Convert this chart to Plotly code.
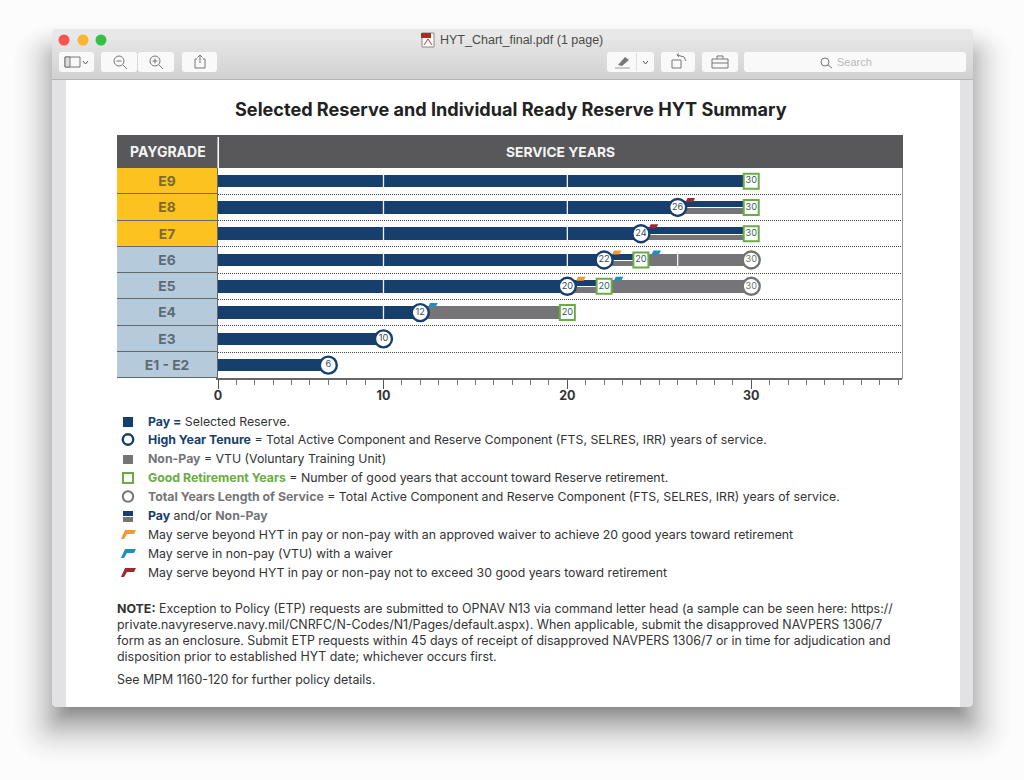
import plotly.graph_objects as go

W, H = 1024, 780

# ---- chart data -------------------------------------------------------------
# The source chart's axis is uneven: the label 10 sits on the 9th tick, 20 on the
# 19th and 30 on the 29th, so positions below are tick positions.
paygrades = ["E9", "E8", "E7", "E6", "E5", "E4", "E3", "E1 - E2"]
paygrade_colors = ["#fcc220", "#fcc220", "#fcc220", "#b5cbdc", "#b5cbdc", "#b5cbdc", "#b5cbdc", "#b5cbdc"]
paygrade_text = ["#7b6a30", "#7b6a30", "#7b6a30", "#5d6b76", "#5d6b76", "#5d6b76", "#5d6b76", "#5d6b76"]
pay_end = [29, 25, 23, 21, 19, 11, 9, 6]

split_grades = ["E8", "E7", "E6", "E5"]
split_start = [25, 23, 21, 19]
split_end = [29, 29, 23, 21]

nonpay_grades = ["E6", "E5", "E4"]
nonpay_start = [23, 21, 11]
nonpay_end = [29, 29, 19]

hyt_grades = ["E8", "E7", "E6", "E5", "E4", "E3", "E1 - E2"]
hyt_pos = [25, 23, 21, 19, 11, 9, 6]
hyt_labels = ["26", "24", "22", "20", "12", "10", "6"]

good_grades = ["E9", "E8", "E7", "E6", "E5", "E4"]
good_pos = [29, 29, 29, 23, 21, 19]
good_labels = ["30", "30", "30", "20", "20", "20"]

total_grades = ["E6", "E5"]
total_pos = [29, 29]
total_labels = ["30", "30"]

sep_grades = ["E9", "E8", "E7", "E6", "E5", "E4", "E9", "E8", "E7", "E6", "E5", "E6"]
sep_pos = [9, 9, 9, 9, 9, 9, 19, 19, 19, 19, 19, 25]

flag_grades = ["E8", "E7", "E6", "E6", "E5", "E5", "E4"]
flag_pos = [25.7, 23.7, 21.7, 23.85, 19.75, 21.8, 11.7]
flag_kinds = ["red", "red", "orange", "blue", "orange", "blue", "blue"]

major_ticks = [0, 9, 19, 29]
major_labels = ["0", "10", "20", "30"]
minor_ticks = [t for t in range(0, 38)]

NAVY, GRAY, GREEN = "#163f6e", "#757577", "#6bab45"
FLAG = {"red": "#9c2a34", "orange": "#ee9a35", "blue": "#1f8fc0"}

TITLE = "Selected Reserve and Individual Ready Reserve HYT Summary"
legend_rows = [
    f'<b><span style="color:{NAVY}">Pay =</span></b> Selected Reserve.',
    f'<b><span style="color:{NAVY}">High Year Tenure</span></b> = Total Active Component and Reserve Component (FTS, SELRES, IRR) years of service.',
    f'<b><span style="color:{GRAY}">Non-Pay</span></b> = VTU (Voluntary Training Unit)',
    f'<b><span style="color:{GREEN}">Good Retirement Years</span></b> = Number of good years that account toward Reserve retirement.',
    f'<b><span style="color:{GRAY}">Total Years Length of Service</span></b> = Total Active Component and Reserve Component (FTS, SELRES, IRR) years of service.',
    f'<b><span style="color:{NAVY}">Pay</span></b> and/or <b><span style="color:{GRAY}">Non-Pay</span></b>',
    'May serve beyond HYT in pay or non-pay with an approved waiver to achieve 20 good years toward retirement',
    'May serve in non-pay (VTU) with a waiver',
    'May serve beyond HYT in pay or non-pay not to exceed 30 good years toward retirement',
]
legend_y = [421.3, 439.3, 458.3, 477.3, 496.3, 515.3, 534.3, 553.3, 572.3]
note_rows = [
    '<b>NOTE:</b> Exception to Policy (ETP) requests are submitted to OPNAV N13 via command letter head (a sample can be seen here: https://',
    'private.navyreserve.navy.mil/CNRFC/N-Codes/N1/Pages/default.aspx). When applicable, submit the disapproved NAVPERS 1306/7',
    'form as an enclosure. Submit ETP requests within 45 days of receipt of disapproved NAVPERS 1306/7 or in time for adjudication and',
    'disposition prior to established HYT date; whichever occurs first.',
    'See MPM 1160-120 for further policy details.',
]
note_y = [608.3, 624.5, 640.5, 656.5, 679.3]

# ---- pixel helpers for the page furniture --------------------------------------
def fx(px): return px / W
def fy(py): return (H - py) / H

shapes, annos = [], []

def rect(x0, y0, x1, y1, fill, line=None, lw=1, opacity=1, layer="below"):
    shapes.append(dict(type="rect", xref="paper", yref="paper", x0=fx(x0), x1=fx(x1), y0=fy(y1), y1=fy(y0),
                       fillcolor=fill, opacity=opacity, layer=layer,
                       line=dict(color=line or fill, width=lw if line else 0)))

def pathp(points, fill=None, line=None, lw=1, close=True, layer="below", opacity=1):
    d = "M " + " L ".join(f"{fx(x):.5f},{fy(y):.5f}" for x, y in points) + (" Z" if close else "")
    shapes.append(dict(type="path", xref="paper", yref="paper", path=d, layer=layer, opacity=opacity,
                       fillcolor=fill or "rgba(0,0,0,0)", line=dict(color=line or "rgba(0,0,0,0)", width=lw)))

def rrect(x0, y0, x1, y1, r, fill, line=None, lw=1, opacity=1):
    a, b = fx(x0), fx(x1); c, d = fy(y0), fy(y1)
    rx, ry = r / W, r / H
    p = (f"M {a+rx:.5f},{c:.5f} L {b-rx:.5f},{c:.5f} Q {b:.5f},{c:.5f} {b:.5f},{c-ry:.5f} "
         f"L {b:.5f},{d+ry:.5f} Q {b:.5f},{d:.5f} {b-rx:.5f},{d:.5f} L {a+rx:.5f},{d:.5f} "
         f"Q {a:.5f},{d:.5f} {a:.5f},{d+ry:.5f} L {a:.5f},{c-ry:.5f} Q {a:.5f},{c:.5f} {a+rx:.5f},{c:.5f} Z")
    shapes.append(dict(type="path", xref="paper", yref="paper", path=p, layer="below", opacity=opacity,
                       fillcolor=fill, line=dict(color=line or "rgba(0,0,0,0)", width=lw if line else 0)))

def circle(cx, cy, r, fill, line=None, lw=1):
    shapes.append(dict(type="circle", xref="paper", yref="paper", x0=fx(cx - r), x1=fx(cx + r), y0=fy(cy + r), y1=fy(cy - r),
                       fillcolor=fill, layer="below", line=dict(color=line or "rgba(0,0,0,0)", width=lw if line else 0)))

def text(x, y, s, size, color="#333333", anchor="left", family="Inter"):
    annos.append(dict(xref="paper", yref="paper", x=fx(x), y=fy(y), text=s, showarrow=False, xanchor=anchor, yanchor="middle",
                      align=anchor, xshift=0, yshift=0, borderpad=0, font=dict(family=family, size=size, color=color)))

# ---- window shadow: soft, stronger towards the window, offset downward ----------
N = 40
for i in range(N):
    e = 46 - 1.6 * i
    u = (i + 1) / N
    rrect(52 - e, 29 + 22 - e * 0.7, 973 + e, 707 + 18 + e, max(6, 12 + e * 0.8), "#000000", opacity=0.001 + 0.028 * u ** 1.5)

# ---- window body and toolbar ----------------------------------------------------
rrect(52, 29, 973, 707, 5, "#e2e1e4")
steps = 12
for i in range(steps):
    g = 232 - int(i * 22 / (steps - 1))
    y0 = 32 + i * 4
    rect(52, y0, 973, y0 + 4, f"rgb({g},{g},{g})")
rrect(52, 29, 973, 40, 5, "rgb(232,232,232)")
rect(52, 79, 973, 80, "#b5b5b5")
rect(66, 80, 960, 707, "#ffffff")

circle(64, 40, 5.5, "#f9524f")
circle(83, 40, 5.5, "#f9b62f")
circle(101, 40, 5.5, "#32c145")
text(439, 40, "HYT_Chart_final.pdf (1 page)", 12.5, "#4a4a4a", family="Liberation Sans")
rect(422, 33, 434, 47, "#ffffff", "#888888", 1)
rect(421, 33, 431, 38, "#b5261e")
pathp([(424, 45), (428, 39), (432, 45)], None, "#c8332b", 1, close=False)

for x0, x1 in [(59, 94), (101, 137), (138, 174), (182, 217), (607, 654), (661, 695), (702, 738), (744, 966)]:
    rrect(x0, 52, x1, 72, 3, "#f9f9f9")
rect(636, 53, 637, 71, "#dedede")
ICON = "#777777"
rect(65, 57, 80, 67, "#f9f9f9", ICON, 1)
rect(65, 57, 70, 67, "#dddddd", ICON, 1)
pathp([(83, 61), (85.5, 64), (88, 61)], None, "#555555", 1, close=False)
shapes.append(dict(type="circle", xref="paper", yref="paper", x0=fx(114), x1=fx(124), y0=fy(66), y1=fy(56), layer="below", line=dict(color=ICON, width=1)))
pathp([(123, 65), (127, 69)], None, ICON, 1, close=False)
pathp([(116.5, 61), (121.5, 61)], None, ICON, 1, close=False)
shapes.append(dict(type="circle", xref="paper", yref="paper", x0=fx(150), x1=fx(160), y0=fy(66), y1=fy(56), layer="below", line=dict(color=ICON, width=1)))
pathp([(159, 65), (163, 69)], None, ICON, 1, close=False)
pathp([(152.5, 61), (157.5, 61)], None, ICON, 1, close=False)
pathp([(155, 58.5), (155, 63.5)], None, ICON, 1, close=False)
pathp([(197, 59), (195, 59), (195, 68), (205, 68), (205, 59), (203, 59)], None, ICON, 1, close=False)
pathp([(200, 63), (200, 55)], None, ICON, 1, close=False)
pathp([(197.5, 57.5), (200, 55), (202.5, 57.5)], None, ICON, 1, close=False)
pathp([(618, 65), (625, 57), (629, 60), (622, 66)], "#777777")
pathp([(615, 68), (630, 68)], None, "#999999", 1, close=False)
pathp([(643, 61), (645.5, 64), (648, 61)], None, "#555555", 1, close=False)
rect(672, 60, 681, 68, "#f9f9f9", ICON, 1)
pathp([(677, 55), (684, 57), (686, 61)], None, ICON, 1, close=False)
pathp([(679, 53.5), (677, 55), (679, 57)], None, ICON, 1, close=False)
rect(712, 59, 728, 68, "#f9f9f9", ICON, 1)
pathp([(717, 59), (717, 56), (723, 56), (723, 59)], None, ICON, 1, close=False)
pathp([(712, 63), (728, 63)], None, ICON, 1, close=False)
shapes.append(dict(type="circle", xref="paper", yref="paper", x0=fx(821), x1=fx(829), y0=fy(66), y1=fy(58), layer="below", line=dict(color="#777777", width=1)))
pathp([(828, 65), (832, 68)], None, "#777777", 1, close=False)
text(836, 62, "Search", 11, "#b9b9b9", family="Liberation Sans")

# ---- title, header band, frame --------------------------------------------------
text(511, 109.5, f"<b>{TITLE}</b>", 18.1, "#222222", "center")
rect(117, 135, 903, 168, "#58585a")
rect(217.5, 137, 219, 168, "#ffffff")
text(167.5, 152, "<b>PAYGRADE</b>", 14, "#f4f4f4", "center")
text(560, 152, "<b>SERVICE YEARS</b>", 13.8, "#f4f4f4", "center")
rect(902, 168, 903, 379, "#9a9a9a")

# ---- legend keys ----------------------------------------------------------------
for s, y in zip(legend_rows, legend_y):
    text(147, y, s, 12.3, "#333333")
for s, y in zip(note_rows, note_y):
    text(116, y, s, 12.4, "#333333")
rect(123, 417, 133, 427, NAVY)
circle(128, 439.5, 5.2, "#ffffff", NAVY, 2.4)
rect(123, 455, 133, 464, GRAY)
rect(123, 473, 133, 483, "#ffffff", GREEN, 2)
circle(128, 496.5, 5.2, "#ffffff", GRAY, 2)
rect(123, 511, 133, 516, NAVY)
rect(123, 517, 133, 522, GRAY)
for y, c in [(530, FLAG["orange"]), (549, FLAG["blue"]), (568, FLAG["red"])]:
    pathp([(125, y), (136, y), (134, y + 4), (127, y + 4), (124, y + 9), (121, y + 9)], c)

# ---- flags on the chart, anchored to data positions ---------------------------------
for g, p, k in zip(flag_grades, flag_pos, flag_kinds):
    shapes.append(dict(type="path", xref="x", yref="y", xsizemode="pixel", ysizemode="pixel", xanchor=p, yanchor=paygrades.index(g),
                       path="M -5,5.5 L -3,9.5 L 4.5,9.5 L 2.5,5.5 Z", fillcolor=FLAG[k], line=dict(width=0), layer="above"))

# ---- traces ---------------------------------------------------------------------
fig = go.Figure()
fig.add_trace(go.Bar(y=paygrades, x=[1] * len(paygrades), orientation="h", xaxis="x2", yaxis="y", width=1,
                     marker=dict(color=paygrade_colors, line=dict(color="#66696b", width=1)),
                     text=[f"<b>{p}</b>" for p in paygrades], textposition="inside", insidetextanchor="middle", textangle=0,
                     textfont=dict(family="Inter", size=13.8, color=paygrade_text), cliponaxis=False))
fig.add_trace(go.Bar(y=paygrades, x=pay_end, orientation="h", width=0.48, marker=dict(color=NAVY, line=dict(width=0))))
fig.add_trace(go.Bar(y=split_grades, base=split_start, x=[e - s for s, e in zip(split_start, split_end)], orientation="h",
                     width=0.235, offset=-0.24, marker=dict(color=NAVY, line=dict(width=0))))
fig.add_trace(go.Bar(y=split_grades, base=split_start, x=[e - s for s, e in zip(split_start, split_end)], orientation="h",
                     width=0.205, offset=0.035, marker=dict(color=GRAY, line=dict(width=0))))
fig.add_trace(go.Bar(y=nonpay_grades, base=nonpay_start, x=[e - s for s, e in zip(nonpay_start, nonpay_end)], orientation="h",
                     width=0.48, marker=dict(color=GRAY, line=dict(width=0))))
fig.add_trace(go.Scatter(y=sep_grades, x=sep_pos, mode="markers",
                         marker=dict(symbol="line-ns", size=13, line=dict(color="#f0f3f6", width=1.3))))
fig.add_trace(go.Scatter(y=total_grades, x=total_pos, mode="markers+text", text=total_labels, textposition="middle center",
                         textfont=dict(family="Inter", size=9.2, color="#6f6f6f"),
                         marker=dict(symbol="circle", size=17, color="#ffffff", line=dict(color="#737373", width=2.4))))
fig.add_trace(go.Scatter(y=hyt_grades, x=hyt_pos, mode="markers+text", text=hyt_labels, textposition="middle center",
                         textfont=dict(family="Inter", size=9.2, color="#34495f"),
                         marker=dict(symbol="circle", size=17, color="#ffffff", line=dict(color=NAVY, width=2.4))))
fig.add_trace(go.Scatter(y=good_grades, x=good_pos, mode="markers+text", text=good_labels, textposition="middle center",
                         textfont=dict(family="Inter", size=9.2, color="#2f5f5a"),
                         marker=dict(symbol="square", size=15, color="#ffffff", line=dict(color=GREEN, width=2))))

fig.update_layout(
    width=W, height=H, margin=dict(l=0, r=0, t=0, b=0), showlegend=False, barmode="overlay", hovermode=False,
    paper_bgcolor="#fcfcfc", plot_bgcolor="rgba(0,0,0,0)", bargap=0,
    shapes=shapes, annotations=annos,
    xaxis=dict(domain=[fx(218), fx(902)], range=[0, 37.2], anchor="y", automargin=False, tickmode="array", tickvals=major_ticks,
               ticktext=[f"<b>{t}</b>" for t in major_labels],
               ticks="outside", ticklen=9, tickcolor="#555555", tickwidth=1.3, showgrid=False, zeroline=False,
               showline=True, linecolor="#666666", linewidth=2, ticklabelstandoff=-4,
               tickfont=dict(family="Inter", size=12.5, color="#333333"),
               minor=dict(tickmode="array", tickvals=minor_ticks, ticks="outside", ticklen=5, tickcolor="#777777", tickwidth=1)),
    xaxis2=dict(domain=[fx(117), fx(218)], range=[0, 1], anchor="free", position=0, visible=False, fixedrange=True, automargin=False),
    yaxis=dict(domain=[fy(378.3), fy(168)], type="category", categoryorder="array", categoryarray=paygrades, automargin=False,
               range=[7.5, -0.5], anchor="x", showticklabels=False, ticks="", tickson="boundaries", showgrid=True,
               griddash="1px,1px", gridcolor="#444444", gridwidth=1, zeroline=False, showline=True, linecolor="#666666", linewidth=2),
)

fig.write_html("out.html", config=dict(displayModeBar=False),
               post_script="document.body.style.margin='0';document.body.style.overflow='hidden';")
